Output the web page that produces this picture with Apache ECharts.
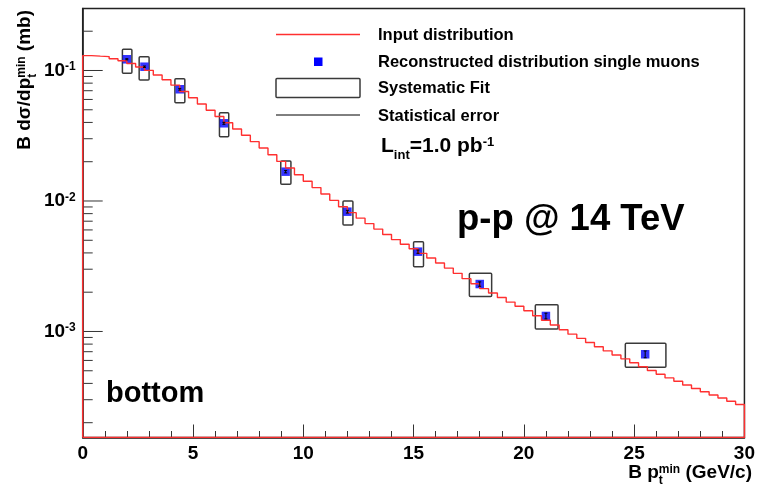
<!DOCTYPE html>
<html><head><meta charset="utf-8">
<script src="https://cdn.jsdelivr.net/npm/echarts@6/dist/echarts.min.js"></script>
<style>html,body{margin:0;padding:0;background:#fff}#c{width:758px;height:484px}</style>
</head><body><div id="c"></div>
<script>
// ---- data ----
const binWidth = 0.4; // GeV, 75 bins from 0 to 30
const inputDist = [
  0.1301, 0.1289, 0.1278, 0.1231, 0.1187, 0.1131, 0.1065, 0.1003, 0.0924, 0.0850,
  0.0772, 0.0691, 0.0619, 0.0554, 0.0496, 0.0444, 0.0398, 0.0356, 0.0319, 0.0285,
  0.0255, 0.0226, 0.0201, 0.01788, 0.01589, 0.01416, 0.01266, 0.01131, 0.01011, 0.00903,
  0.00814, 0.00739, 0.00671, 0.00609, 0.00553, 0.00506, 0.00466, 0.00430, 0.00397, 0.00366,
  0.00335, 0.00306, 0.00279, 0.00254, 0.00232, 0.00213, 0.00197, 0.00182, 0.00168, 0.00156,
  0.00144, 0.00132, 0.00122, 0.00112, 0.00103, 0.000954, 0.000886, 0.000823, 0.000764, 0.000710,
  0.000661, 0.000617, 0.000576, 0.000537, 0.000502, 0.000470, 0.000441, 0.000415, 0.000389, 0.000366,
  0.000345, 0.000326, 0.000309, 0.000292, 0.000276
];
const recoX = [2.0, 2.8, 4.4, 6.4, 9.2, 12.0, 15.2, 18.0, 21.0, 25.5];
const recoY = [0.1219, 0.1069, 0.0718, 0.0394, 0.01677, 0.00828, 0.00409, 0.00231, 0.001315, 0.000669];
const statErr = [0.0012, 0.0013, 0.0011, 0.0007, 0.00034, 0.0002, 0.00012, 0.00009, 0.000066, 0.00004];
const sysXLow  = [1.80, 2.56, 4.18, 6.20, 8.98, 11.80, 15.00, 17.53, 20.52, 24.60];
const sysXHigh = [2.23, 3.01, 4.63, 6.62, 9.44, 12.25, 15.45, 18.54, 21.55, 26.44];
const sysYLow  = [0.0952, 0.0846, 0.0567, 0.0311, 0.01343, 0.00655, 0.00314, 0.00185, 0.001045, 0.000532];
const sysYHigh = [0.1454, 0.1275, 0.0866, 0.0475, 0.02025, 0.0100, 0.00488, 0.00279, 0.00160, 0.000812];
const xTickLabels = ['0', '5', '10', '15', '20', '25', '30'];

// ---- chart ----
const Y_MIN = 1.54e-4, Y_MAX = 0.2986, X_MIN = 0, X_MAX = 30;
const FONT = "'Liberation Sans', Arial, Helvetica, sans-serif";
const chart = echarts.init(document.getElementById('c'), null, { renderer: 'canvas' });

const histLine = [[X_MIN, Y_MIN]];
inputDist.forEach((v, i) => { histLine.push([i * binWidth, v], [(i + 1) * binWidth, v]); });
histLine.push([inputDist.length * binWidth, Y_MIN], [X_MIN, Y_MIN]);

const yTicks = [];
for (let k = -4; k <= 0; k++) for (let m = 1; m <= 9; m++) {
  const v = m * Math.pow(10, k);
  if (v >= Y_MIN && v <= Y_MAX) yTicks.push([X_MIN, v, m === 1 ? 1 : 0]);
}

const points = recoX.map((x, i) => [x, recoY[i]]);
const boxes = recoX.map((x, i) => [sysXLow[i], sysXHigh[i], sysYLow[i], sysYHigh[i]]);
const errs = recoX.map((x, i) => [x, recoY[i] - statErr[i], recoY[i] + statErr[i]]);

function supLabel(v) {
  const e = Math.log10(v);
  const r = Math.round(e);
  if (Math.abs(e - r) > 1e-6) return '';
  return '{b|10}{s|' + r + '}';
}
function richTitle(size) {
  return {
    m: { fontSize: size, fontWeight: 'bold', fontFamily: FONT, fill: '#000', align: 'left' },
    sub: { fontSize: 12, fontWeight: 'bold', fontFamily: FONT, fill: '#000', align: 'left', verticalAlign: 'bottom', width: 0, padding: [0, 0, -4, 0] },
    sup: { fontSize: 12, fontWeight: 'bold', fontFamily: FONT, fill: '#000', align: 'left', verticalAlign: 'top' }
  };
}
const legendFont = { fill: '#000', fontSize: 16.5, fontWeight: 'bold', fontFamily: FONT, textVerticalAlign: 'middle' };

chart.setOption({
  animation: false,
  backgroundColor: '#fff',
  grid: { left: 82.7, right: 10.7, top: 8.5, bottom: 46.5, show: true, borderColor: '#222', borderWidth: 1.5 },
  xAxis: {
    type: 'value', min: X_MIN, max: X_MAX, interval: 5,
    axisLine: { onZero: false, lineStyle: { color: '#222', width: 1.5 } },
    axisTick: { inside: true, length: 13, lineStyle: { color: '#333', width: 1 } },
    minorTick: { show: true, splitNumber: 5, length: 6.5, lineStyle: { color: '#333', width: 1 } },
    splitLine: { show: false },
    axisLabel: {
      margin: 7, color: '#000', fontSize: 19, fontWeight: 'bold', fontFamily: FONT,
      formatter: v => xTickLabels[Math.round(v / 5)] ?? ''
    }
  },
  yAxis: {
    type: 'log', logBase: 10, min: Y_MIN, max: Y_MAX,
    axisLine: { lineStyle: { color: '#222', width: 1.5 } },
    axisTick: { show: false },
    splitLine: { show: false },
    axisLabel: {
      margin: 7, showMinLabel: false, showMaxLabel: false, color: '#000',
      formatter: supLabel,
      rich: {
        b: { fontSize: 19, fontWeight: 'bold', fontFamily: FONT, color: '#000' },
        s: { fontSize: 12, fontWeight: 'bold', fontFamily: FONT, color: '#000', verticalAlign: 'top' }
      }
    }
  },
  series: [
    { // log-axis ticks (major at decades, minor at 2..9)
      type: 'custom', data: yTicks, z: 1, silent: true,
      encode: { x: 0, y: 1 },
      renderItem: (params, api) => {
        const p = api.coord([api.value(0), api.value(1)]);
        const len = api.value(2) ? 20 : 10;
        return { type: 'line', shape: { x1: p[0], y1: p[1], x2: p[0] + len, y2: p[1] },
                 style: { stroke: '#333', lineWidth: 1 } };
      }
    },
    { // systematic boxes
      type: 'custom', name: 'Systematic Fit', data: boxes, z: 2, clip: true,
      encode: { x: [0, 1], y: [2, 3] },
      renderItem: (params, api) => {
        const a = api.coord([api.value(0), api.value(3)]);
        const b = api.coord([api.value(1), api.value(2)]);
        return { type: 'rect', shape: { x: a[0], y: a[1], width: b[0] - a[0], height: b[1] - a[1], r: 1 },
                 style: { fill: 'none', stroke: '#3a3a3a', lineWidth: 1.5 } };
      }
    },
    {
      type: 'scatter', name: 'Reconstructed distribution single muons', data: points, z: 3,
      symbol: 'rect', symbolSize: 8.5, itemStyle: { color: '#0000ff' }
    },
    {
      type: 'line', name: 'Input distribution', data: histLine, z: 4, clip: true,
      showSymbol: false, symbol: 'none',
      lineStyle: { color: '#ff3030', width: 1.4 }
    },
    { // statistical error bars
      type: 'custom', name: 'Statistical error', data: errs, z: 5,
      encode: { x: 0, y: [1, 2] },
      renderItem: (params, api) => {
        const lo = api.coord([api.value(0), api.value(1)]);
        const hi = api.coord([api.value(0), api.value(2)]);
        return { type: 'group', children: [
          { type: 'line', shape: { x1: lo[0], y1: lo[1], x2: hi[0], y2: hi[1] }, style: { stroke: '#000', lineWidth: 1 } },
          { type: 'line', shape: { x1: lo[0] - 1.5, y1: lo[1], x2: lo[0] + 1.5, y2: lo[1] }, style: { stroke: '#000', lineWidth: 1 } },
          { type: 'line', shape: { x1: hi[0] - 1.5, y1: hi[1], x2: hi[0] + 1.5, y2: hi[1] }, style: { stroke: '#000', lineWidth: 1 } }
        ] };
      }
    }
  ],
  graphic: [
    // legend
    { type: 'line', shape: { x1: 276, y1: 34.5, x2: 360, y2: 34.5 }, style: { stroke: '#ff3030', lineWidth: 1.4 } },
    { type: 'rect', shape: { x: 314, y: 57.5, width: 8.5, height: 8.5 }, style: { fill: '#0000ff' } },
    { type: 'rect', shape: { x: 276, y: 78.5, width: 84, height: 19, r: 1 }, style: { fill: 'none', stroke: '#3a3a3a', lineWidth: 1.5 } },
    { type: 'line', shape: { x1: 276, y1: 115, x2: 360, y2: 115 }, style: { stroke: '#000', lineWidth: 1 } },
    { type: 'text', x: 378, y: 35, style: Object.assign({ text: 'Input distribution' }, legendFont) },
    { type: 'text', x: 378, y: 62, style: Object.assign({ text: 'Reconstructed distribution single muons' }, legendFont) },
    { type: 'text', x: 378, y: 88.5, style: Object.assign({ text: 'Systematic Fit' }, legendFont) },
    { type: 'text', x: 378, y: 116, style: Object.assign({ text: 'Statistical error' }, legendFont) },
    { type: 'text', x: 381, y: 146, style: {
        text: '{m|L}{sub|int}{m|=1.0 pb}{sup|-1}', fill: '#000', textVerticalAlign: 'middle',
        rich: {
          m: { fontSize: 21, fontWeight: 'bold', fontFamily: FONT, fill: '#000' },
          sub: { fontSize: 13, fontWeight: 'bold', fontFamily: FONT, fill: '#000', verticalAlign: 'bottom', padding: [0, 0, -5, 0] },
          sup: { fontSize: 13, fontWeight: 'bold', fontFamily: FONT, fill: '#000', verticalAlign: 'top' }
        } } },
    // annotations
    { type: 'text', x: 457, y: 220, style: { text: 'p-p @ 14 TeV', fill: '#000', fontSize: 36.5, fontWeight: 'bold', fontFamily: FONT, textVerticalAlign: 'middle' } },
    { type: 'text', x: 106, y: 394, style: { text: 'bottom', fill: '#000', fontSize: 29, fontWeight: 'bold', fontFamily: FONT, textVerticalAlign: 'middle' } },
    // axis titles
    { type: 'text', x: 752, y: 473, style: {
        text: '{m|B p}{sub|t}{sup|min}{m| (GeV/c)}', fill: '#000', textAlign: 'right', textVerticalAlign: 'middle',
        rich: richTitle(19) } },
    { type: 'text', x: 25, y: 10, rotation: Math.PI / 2, style: {
        text: '{m|B dσ/dp}{sub|t}{sup|min}{m| (mb)}', fill: '#000', textAlign: 'right', textVerticalAlign: 'middle',
        rich: richTitle(19) } }
  ]
});
</script>
</body></html>
